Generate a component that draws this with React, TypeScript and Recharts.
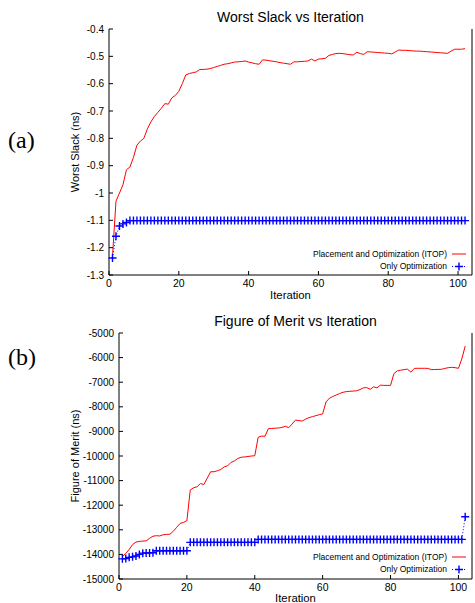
import { LineChart, Line, XAxis, YAxis, Legend } from "recharts";

const FONT = '"Liberation Sans", Arial, Helvetica, sans-serif';

// iteration numbers 1..102
const iterations = Array.from({ length: 102 }, (_, i) => i + 1);
const xTicks = [0, 20, 40, 60, 80, 100];

const slackTicks = [-1.3, -1.2, -1.1, -1, -0.9, -0.8, -0.7, -0.6, -0.5, -0.4];
const meritTicks = [
  -15000, -14000, -13000, -12000, -11000, -10000, -9000, -8000, -7000, -6000, -5000,
];

// (a) worst slack
const slackItop = [
  -1.233, -1.03, -1.0, -0.97, -0.915, -0.905, -0.87, -0.825, -0.81, -0.8,
  -0.765, -0.74, -0.72, -0.705, -0.69, -0.673, -0.675, -0.652, -0.643, -0.628,
  -0.6, -0.568, -0.563, -0.56, -0.557, -0.548, -0.548, -0.547, -0.545, -0.541,
  -0.537, -0.533, -0.529, -0.527, -0.524, -0.521, -0.52, -0.519, -0.517, -0.521,
  -0.524, -0.527, -0.529, -0.513, -0.514, -0.516, -0.518, -0.52, -0.523, -0.525,
  -0.527, -0.529, -0.52, -0.52, -0.519, -0.518, -0.517, -0.51, -0.517, -0.51,
  -0.509, -0.507, -0.497, -0.493, -0.49, -0.489, -0.49, -0.492, -0.494, -0.495,
  -0.485, -0.49, -0.493, -0.483, -0.484, -0.485, -0.486, -0.487, -0.488, -0.489,
  -0.491, -0.484, -0.477, -0.478, -0.478, -0.479, -0.48, -0.481, -0.481, -0.482,
  -0.483, -0.484, -0.485, -0.486, -0.487, -0.488, -0.489, -0.481, -0.474, -0.474,
  -0.474, -0.472,
];

const slackOpt = [
  -1.238, -1.158, -1.121, -1.113, -1.108, -1.101, -1.101, -1.101, -1.101, -1.101,
  -1.101, -1.101, -1.101, -1.101, -1.101, -1.101, -1.101, -1.101, -1.101, -1.101,
  -1.101, -1.101, -1.101, -1.101, -1.101, -1.101, -1.101, -1.101, -1.101, -1.101,
  -1.101, -1.101, -1.101, -1.101, -1.101, -1.101, -1.101, -1.101, -1.101, -1.101,
  -1.101, -1.101, -1.101, -1.101, -1.101, -1.101, -1.101, -1.101, -1.101, -1.101,
  -1.101, -1.101, -1.101, -1.101, -1.101, -1.101, -1.101, -1.101, -1.101, -1.101,
  -1.101, -1.101, -1.101, -1.101, -1.101, -1.101, -1.101, -1.101, -1.101, -1.101,
  -1.101, -1.101, -1.101, -1.101, -1.101, -1.101, -1.101, -1.101, -1.101, -1.101,
  -1.101, -1.101, -1.101, -1.101, -1.101, -1.101, -1.101, -1.101, -1.101, -1.101,
  -1.101, -1.101, -1.101, -1.101, -1.101, -1.101, -1.101, -1.101, -1.101, -1.101,
  -1.101, -1.101,
];

// (b) figure of merit
const meritItop = [
  -14090, -13960, -13800, -13600, -13500, -13470, -13460, -13450, -13350, -13260,
  -13240, -13250, -13200, -13190, -13180, -13060, -12900, -12740, -12700, -12630,
  -11380, -11290, -11250, -11120, -11160, -10900, -10640, -10640, -10600, -10550,
  -10440, -10400, -10260, -10200, -10100, -10050, -10040, -10020, -10000, -9990,
  -9240, -9190, -9200, -8890, -8880, -8870, -8860, -8840, -8790, -8850,
  -8700, -8540, -8560, -8580, -8500, -8440, -8400, -8360, -8320, -8290,
  -7800, -7650, -7580, -7520, -7460, -7410, -7380, -7370, -7360, -7350,
  -7300, -7230, -7220, -7290, -7190, -7230, -7120, -7130, -7130, -7130,
  -6650, -6540, -6510, -6490, -6470, -6590, -6440, -6435, -6435, -6435,
  -6440, -6490, -6485, -6480, -6475, -6440, -6410, -6395, -6410, -6436,
  -6050, -5530,
];

const meritOpt = [
  -14180, -14170, -14120, -14100, -14065, -14000, -13950, -13945, -13940, -13935,
  -13850, -13850, -13850, -13850, -13850, -13850, -13850, -13850, -13850, -13850,
  -13510, -13510, -13510, -13510, -13510, -13510, -13510, -13510, -13510, -13510,
  -13510, -13510, -13510, -13510, -13510, -13510, -13510, -13510, -13510, -13510,
  -13390, -13390, -13390, -13390, -13390, -13390, -13390, -13390, -13390, -13390,
  -13390, -13390, -13390, -13390, -13390, -13390, -13390, -13390, -13390, -13390,
  -13390, -13390, -13390, -13390, -13390, -13390, -13390, -13390, -13390, -13390,
  -13390, -13390, -13390, -13390, -13390, -13390, -13390, -13390, -13390, -13390,
  -13390, -13390, -13390, -13390, -13390, -13390, -13390, -13390, -13390, -13390,
  -13390, -13390, -13390, -13390, -13390, -13390, -13390, -13390, -13390, -13390,
  -13390, -12470,
];

const slackData = iterations.map((it, i) => ({ it, itop: slackItop[i], opt: slackOpt[i] }));
const meritData = iterations.map((it, i) => ({ it, itop: meritItop[i], opt: meritOpt[i] }));

const PlusDot = (props: any) => {
  const { cx, cy, index } = props;
  if (cx == null || cy == null) return <g key={index} />;
  return (
    <path
      key={index}
      d={`M${cx - 4},${cy}H${cx + 4}M${cx},${cy - 4}V${cy + 4}`}
      stroke="#0000ff"
      strokeWidth={1.4}
      fill="none"
    />
  );
};

const renderLegend = () => (
  <svg width={270} height={30} style={{ overflow: "visible" }}>
    <text x={247} y={7} dy="0.35em" textAnchor="end" fontSize={8.5} fontFamily={FONT} fill="#000">
      Placement and Optimization (ITOP)
    </text>
    <line x1={252} x2={266} y1={7} y2={7} stroke="#ff0000" strokeWidth={1} />
    <text x={247} y={19.5} dy="0.35em" textAnchor="end" fontSize={8.5} fontFamily={FONT} fill="#000">
      Only Optimization
    </text>
    <line x1={252} x2={266} y1={19.5} y2={19.5} stroke="#0000ff" strokeWidth={1} strokeDasharray="1 2" />
    <path d="M255,19.5H263M259,15.5V23.5" stroke="#0000ff" strokeWidth={1.4} />
  </svg>
);

type PanelProps = {
  data: any[];
  top: number;
  height: number;
  marginTop: number;
  axisWidth: number;
  xAxisHeight: number;
  yDomain: [number, number];
  yTicks: number[];
  title: string;
  titleY: number;
  yLabel: string;
  legendTop: number;
  letter: string;
  letterY: number;
};

const Panel = (p: PanelProps) => {
  const plotLeft = p.axisWidth;
  const plotBottom = p.height - p.xAxisHeight;
  const cx = (plotLeft + 472) / 2;
  const cy = (p.marginTop + plotBottom) / 2;
  return (
    <div style={{ position: "absolute", left: 0, top: p.top, width: 475, height: p.height }}>
      <LineChart
        width={475}
        height={p.height}
        data={p.data}
        margin={{ top: p.marginTop, right: 0, bottom: 0, left: 0 }}
      >
        <XAxis
          dataKey="it"
          type="number"
          domain={[0, 104]}
          ticks={xTicks}
          interval={0}
          height={p.xAxisHeight}
          stroke="#000"
          tickSize={-4}
          tickMargin={9}
          tick={{ fontSize: 10.5, fill: "#000", fontFamily: FONT }}
          label={{ value: "Iteration", position: "insideBottom", offset: 1, fontSize: 11.3, fill: "#000", fontFamily: FONT }}
        />
        <XAxis
          xAxisId="top"
          orientation="top"
          dataKey="it"
          type="number"
          domain={[0, 104]}
          ticks={xTicks}
          height={0}
          stroke="#000"
          tickSize={-4}
          tick={false}
        />
        <YAxis
          type="number"
          domain={p.yDomain}
          ticks={p.yTicks}
          interval={0}
          width={p.axisWidth}
          stroke="#000"
          tickSize={-4}
          tickMargin={9}
          tick={{ fontSize: 10, fill: "#000", fontFamily: FONT }}
        />
        <YAxis
          yAxisId="right"
          orientation="right"
          type="number"
          domain={p.yDomain}
          ticks={p.yTicks}
          width={3}
          stroke="#000"
          tickSize={-4}
          tick={false}
        />
        <Legend
          layout="vertical"
          align="center"
          verticalAlign="middle"
          content={renderLegend}
          wrapperStyle={{ left: 200, top: p.legendTop, width: 270, height: 30 }}
        />
        <Line
          dataKey="itop"
          name="Placement and Optimization (ITOP)"
          stroke="#ff0000"
          strokeWidth={1}
          dot={false}
          isAnimationActive={false}
        />
        <Line
          dataKey="opt"
          name="Only Optimization"
          stroke="#0000ff"
          strokeWidth={1}
          strokeDasharray="1 2"
          dot={PlusDot}
          isAnimationActive={false}
        />
      </LineChart>
      <div
        style={{
          position: "absolute",
          left: cx,
          top: p.titleY,
          transform: "translate(-50%, -50%)",
          fontFamily: FONT,
          fontSize: 14,
          whiteSpace: "nowrap",
          color: "#000",
        }}
      >
        {p.title}
      </div>
      <div
        style={{
          position: "absolute",
          left: 75,
          top: cy,
          transform: "translate(-50%, -50%) rotate(-90deg)",
          fontFamily: FONT,
          fontSize: 11,
          whiteSpace: "nowrap",
          color: "#000",
        }}
      >
        {p.yLabel}
      </div>
      <div
        style={{
          position: "absolute",
          left: 8,
          top: p.letterY,
          transform: "translateY(-50%)",
          fontFamily: '"Liberation Serif", "DejaVu Serif", serif',
          fontSize: 24,
          color: "#000",
        }}
      >
        {p.letter}
      </div>
    </div>
  );
};

export default function App() {
  return (
    <div style={{ position: "absolute", left: 0, top: 0, width: 475, height: 603, background: "#fff", overflow: "hidden" }}>
      <Panel
        data={slackData}
        top={0}
        height={300}
        marginTop={29}
        axisWidth={109}
        xAxisHeight={25}
        yDomain={[-1.3, -0.4]}
        yTicks={slackTicks}
        title="Worst Slack vs Iteration"
        titleY={17}
        yLabel="Worst Slack (ns)"
        legendTop={247}
        letter="(a)"
        letterY={140}
      />
      <Panel
        data={meritData}
        top={300}
        height={303}
        marginTop={33}
        axisWidth={119}
        xAxisHeight={24}
        yDomain={[-15000, -5000]}
        yTicks={meritTicks}
        title="Figure of Merit vs Iteration"
        titleY={21}
        yLabel="Figure of Merit (ns)"
        legendTop={250}
        letter="(b)"
        letterY={57}
      />
    </div>
  );
}
